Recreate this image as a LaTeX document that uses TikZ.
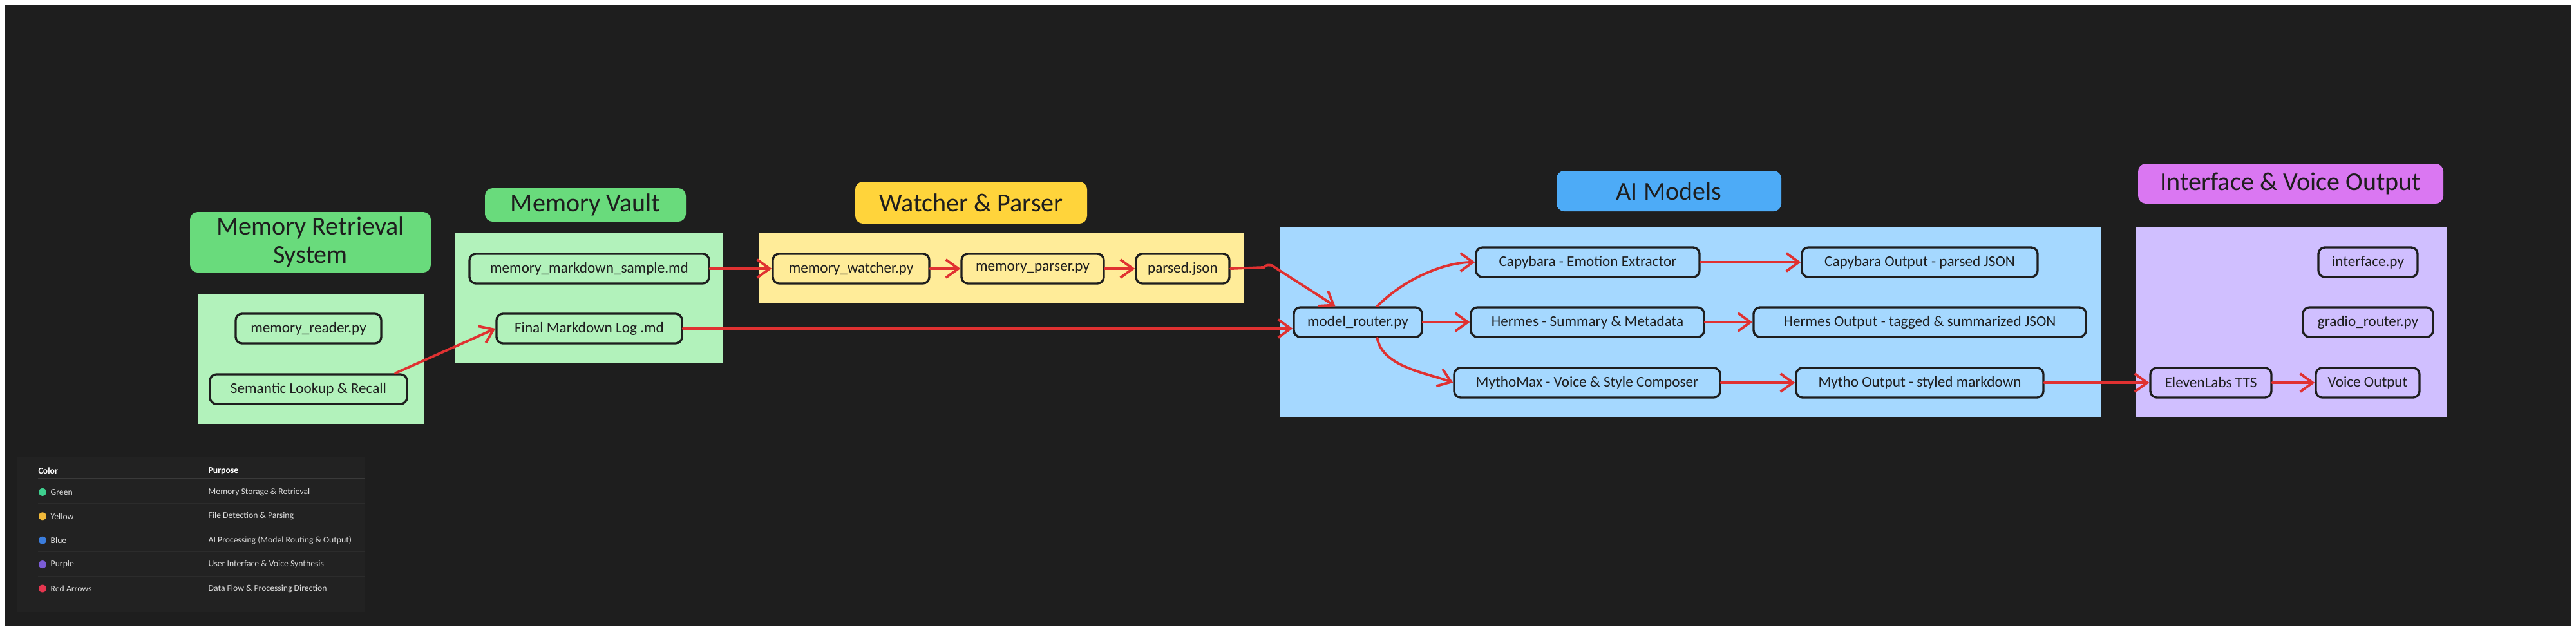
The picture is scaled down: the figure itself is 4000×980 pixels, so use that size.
\documentclass[tikz,border=0pt]{standalone}
\usepackage{fontspec}
\setmainfont{Carlito}
\usetikzlibrary{arrows.meta}
\definecolor{canvas}{HTML}{1E1E1E}
\definecolor{ink}{HTML}{1E1E1E}
\definecolor{headgreen}{HTML}{69DB7C}
\definecolor{grpgreen}{HTML}{B2F2BB}
\definecolor{headyellow}{HTML}{FFD43B}
\definecolor{grpyellow}{HTML}{FFEC99}
\definecolor{headblue}{HTML}{4DABF7}
\definecolor{grpblue}{HTML}{A5D8FF}
\definecolor{headpurple}{HTML}{DA77F2}
\definecolor{grppurple}{HTML}{D0BFFF}
\definecolor{flowred}{HTML}{E03131}
\definecolor{legbg}{HTML}{222222}
\definecolor{legline}{HTML}{3A3A3A}
\definecolor{legrow}{HTML}{2C2C2C}
\definecolor{legfg}{HTML}{DDDDDD}
\definecolor{leggreen}{HTML}{3ECF8E}
\definecolor{legyellow}{HTML}{F0B93A}
\definecolor{legblue}{HTML}{3B7DDD}
\definecolor{legpurple}{HTML}{7B5CD6}
\definecolor{legred}{HTML}{E5364F}

\begin{document}
\begin{tikzpicture}[x=0.1mm, y=-0.1mm,
        box/.style={draw=ink, line width=0.95pt, rounded corners=1mm, minimum height=4.6mm, inner sep=0pt, text=ink, font=\fontsize{6.6}{7.9}\selectfont},
        headbox/.style={rounded corners=1.2mm, inner sep=0pt, text=ink, align=center, font=\fontsize{11.4}{12.5}\selectfont},
        flow/.style={draw=flowred, line width=1.1pt, line cap=round, -{Straight Barb[length=5.5pt,width=8pt]}},
        legtext/.style={anchor=west, inner sep=0pt, text=legfg, font=\fontsize{3.9}{4.6}\selectfont}]
        \useasboundingbox (0,0) rectangle (4000,980);
        \fill[white] (0,0) rectangle (4000,980);
        \fill[canvas] (8,8) rectangle (3992,972);

        \fill[grpgreen] (308,456) rectangle (659,658);
        \fill[grpgreen] (707,362) rectangle (1122,564);
        \fill[grpyellow] (1178,362) rectangle (1932,471);
        \fill[grpblue] (1987,352) rectangle (3263,648);
        \fill[grppurple] (3317,352) rectangle (3800,648);

        \node[headbox, fill=headgreen, minimum width=37.4mm, minimum height=9.4mm] (retrievaltitle) at (482,376) {Memory Retrieval\\System};
        \node[headbox, fill=headgreen, minimum width=31.2mm, minimum height=5.2mm] (vaulttitle) at (909,318) {Memory Vault};
        \node[headbox, fill=headyellow, minimum width=36mm, minimum height=6.5mm] (watchtitle) at (1508,314.5) {Watcher \& Parser};
        \node[headbox, fill=headblue, minimum width=34.9mm, minimum height=6.3mm] (aititle) at (2591.5,296.5) {AI Models};
        \node[headbox, fill=headpurple, minimum width=47.4mm, minimum height=6.2mm] (voicetitle) at (3557,285) {Interface \& Voice Output};

        \node[box, minimum width=22.6mm] (reader) at (479,510) {memory\_reader.py};
        \node[box, minimum width=30.6mm] (semantic) at (479,604) {Semantic Lookup \& Recall};
        \node[box, minimum width=37.2mm] (mdsample) at (915,417) {memory\_markdown\_sample.md};
        \node[box, minimum width=28.8mm] (finallog) at (915,510) {Final Markdown Log .md};
        \node[box, minimum width=24.3mm] (watcher) at (1321.5,417) {memory\_watcher.py};
        \node[box, minimum width=22.1mm] (parser) at (1603.5,417) {memory\_parser.py};
        \node[box, minimum width=14.5mm] (parsed) at (1836.5,417) {parsed.json};
        \node[box, minimum width=19.9mm] (router) at (2108.5,500) {model\_router.py};
        \node[box, minimum width=34.7mm] (capy) at (2465.5,407) {Capybara - Emotion Extractor};
        \node[box, minimum width=36.6mm] (capyout) at (2981,407) {Capybara Output - parsed JSON};
        \node[box, minimum width=36.2mm] (hermes) at (2465,500) {Hermes - Summary \& Metadata};
        \node[box, minimum width=51.6mm] (hermesout) at (2981,500) {Hermes Output - tagged \& summarized JSON};
        \node[box, minimum width=41.3mm] (mytho) at (2464.5,594) {MythoMax - Voice \& Style Composer};
        \node[box, minimum width=38.4mm] (mythoout) at (2981,594) {Mytho Output - styled markdown};
        \node[box, minimum width=15.4mm] (iface) at (3677,407) {interface.py};
        \node[box, minimum width=20.2mm] (gradio) at (3677,500) {gradio\_router.py};
        \node[box, minimum width=18.8mm] (eleven) at (3433,594) {ElevenLabs TTS};
        \node[box, minimum width=16.1mm] (voice) at (3676.5,594) {Voice Output};

        \draw[flow] ([xshift=-2mm]semantic.north east) -- (finallog.west);
        \draw[flow] (mdsample.east) -- (watcher.west);
        \draw[flow] (finallog.east) -- (finallog.east -| router.west);
        \draw[flow] (watcher.east) -- (parser.west);
        \draw[flow] (parser.east) -- (parsed.west);
        \draw[flow] (parsed.east) -- ++(52,-2) .. controls +(4,-4) and +(-6,-1) .. ++(12,-3) -- ([xshift=-3.5mm]router.north);
        \draw[flow] ([xshift=3mm]router.north) .. controls +(45,-45) and +(-45,0) .. (capy.west);
        \draw[flow] (router.east) -- (hermes.west);
        \draw[flow] ([xshift=3mm]router.south) .. controls +(8,45) and +(-40,-15) .. (mytho.west);
        \draw[flow] (capy.east) -- (capyout.west);
        \draw[flow] (hermes.east) -- (hermesout.west);
        \draw[flow] (mytho.east) -- (mythoout.west);
        \draw[flow] (mythoout.east) -- (eleven.west);
        \draw[flow] (eleven.east) -- (voice.west);

        \fill[legbg] (27,710) rectangle (566,950);
        \node[legtext, text=white, font=\bfseries\fontsize{3.9}{4.6}\selectfont] (colorhead) at (59,731) {Color};
        \node[legtext, text=white, font=\bfseries\fontsize{3.9}{4.6}\selectfont] (purposehead) at (323,731) {Purpose};
        \draw[legline, line width=0.3pt] (59,743) -- (566,743);

        \foreach \c/\name/\purpose [count=\i] in {leggreen/Green/{Memory Storage \& Retrieval}, legyellow/Yellow/{File Detection \& Parsing}, legblue/Blue/{AI Processing (Model Routing \& Output)}, legpurple/Purple/{User Interface \& Voice Synthesis}, legred/Red Arrows/{Data Flow \& Processing Direction}}
        {
            \fill[\c] (66,{726.5+37.4*\i}) circle[radius=0.6mm];
            \node[legtext] (legname\i) at (78,{726.5+37.4*\i}) {\name};
            \node[legtext] (legpurpose\i) at (323,{726.5+37.4*\i}) {\purpose};
        }
        \foreach \i in {1,...,4}
            \draw[legrow, line width=0.3pt] (59,{744.5+37.4*\i}) -- (566,{744.5+37.4*\i});
    \end{tikzpicture}
\end{document}
